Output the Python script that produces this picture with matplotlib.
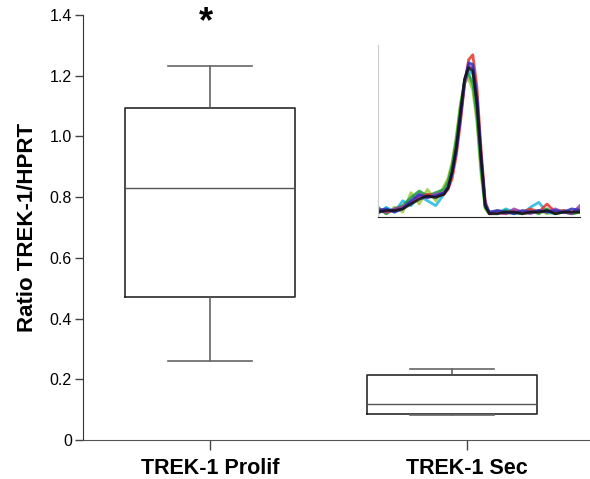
import matplotlib.pyplot as plt

plt.rcParams['font.family'] = ['Liberation Sans', 'DejaVu Sans']

# box plot summary values
groups = ["TREK-1 Prolif", "TREK-1 Sec"]
whislo = [0.26, 0.082]
q1 = [0.472, 0.086]
med = [0.83, 0.117]
q3 = [1.092, 0.215]
whishi = [1.233, 0.235]
yticks = [0, 0.2, 0.4, 0.6, 0.8, 1.0, 1.2, 1.4]
ytick_labels = ["0", "0.2", "0.4", "0.6", "0.8", "1.0", "1.2", "1.4"]

# inset melt curves (estimated)
mx = [0, 4, 8, 12, 16, 20, 24, 28, 32, 34, 36, 38, 40, 42, 44, 46, 48, 50, 52, 54,
      58, 62, 66, 70, 74, 78, 82, 86, 90, 94, 98]
melt = {
    "#9ccc3c": [0.05, 0.02, 0.06, 0.03, 0.15, 0.08, 0.17, 0.10, 0.19, 0.24, 0.34, 0.50, 0.70, 0.83, 0.85, 0.78,
                0.58, 0.26, 0.05, 0.02, 0.04, 0.02, 0.03, 0.02, 0.03, 0.04, 0.02, 0.03, 0.04, 0.02, 0.03],
    "#1fb6e6": [0.02, 0.06, 0.03, 0.10, 0.07, 0.13, 0.10, 0.07, 0.14, 0.19, 0.28, 0.42, 0.62, 0.82, 0.90, 0.88,
                0.68, 0.34, 0.06, 0.03, 0.02, 0.05, 0.03, 0.02, 0.06, 0.09, 0.03, 0.02, 0.04, 0.02, 0.04],
    "#1a9a3a": [0.06, 0.02, 0.05, 0.07, 0.12, 0.16, 0.13, 0.15, 0.17, 0.22, 0.32, 0.48, 0.68, 0.84, 0.88, 0.82,
                0.62, 0.30, 0.06, 0.02, 0.03, 0.04, 0.02, 0.03, 0.04, 0.02, 0.05, 0.02, 0.03, 0.02, 0.03],
    "#e8312a": [0.05, 0.03, 0.04, 0.06, 0.09, 0.12, 0.14, 0.13, 0.14, 0.17, 0.24, 0.38, 0.58, 0.82, 0.97, 1.00,
                0.80, 0.42, 0.10, 0.02, 0.03, 0.02, 0.04, 0.03, 0.05, 0.03, 0.08, 0.03, 0.04, 0.03, 0.05],
    "#9b3fb0": [0.04, 0.03, 0.05, 0.06, 0.09, 0.13, 0.12, 0.14, 0.15, 0.18, 0.27, 0.41, 0.61, 0.83, 0.93, 0.92,
                0.72, 0.37, 0.08, 0.03, 0.03, 0.02, 0.05, 0.03, 0.02, 0.04, 0.03, 0.05, 0.03, 0.02, 0.07],
    "#2b2fbf": [0.04, 0.05, 0.03, 0.05, 0.10, 0.14, 0.12, 0.13, 0.15, 0.18, 0.27, 0.41, 0.62, 0.84, 0.95, 0.94,
                0.74, 0.38, 0.08, 0.03, 0.04, 0.03, 0.02, 0.04, 0.03, 0.04, 0.03, 0.04, 0.03, 0.05, 0.04],
    "#111111": [0.03, 0.04, 0.04, 0.05, 0.08, 0.11, 0.13, 0.12, 0.14, 0.18, 0.28, 0.43, 0.64, 0.85, 0.92, 0.90,
                0.70, 0.36, 0.07, 0.02, 0.02, 0.03, 0.03, 0.02, 0.03, 0.03, 0.04, 0.02, 0.03, 0.03, 0.03],
}

positions = [1, 2]
tick_pos = [1.0, 2.06]

fig = plt.figure(figsize=(5.9, 4.79), dpi=100)
ax = fig.add_axes([0.1407, 0.0814, 0.8593, 0.8873])

stats = []
for i in range(len(groups)):
    stats.append({"whislo": whislo[i], "q1": q1[i], "med": med[i],
                  "q3": q3[i], "whishi": whishi[i], "fliers": []})

ax.bxp(stats, positions=positions, widths=0.70, capwidths=0.35, showfliers=False,
       boxprops=dict(color="#2a2a2a", linewidth=1.2),
       medianprops=dict(color="#555555", linewidth=1.0),
       whiskerprops=dict(color="#555555", linewidth=1.1),
       capprops=dict(color="#666666", linewidth=1.2))

ax.set_xlim(0.475, 2.57)
ax.set_ylim(0, 1.4)
ax.set_yticks(yticks)
ax.set_yticklabels(ytick_labels, fontsize=11.5)
ax.set_xticks(tick_pos)
ax.set_xticklabels(groups, fontsize=15.5, fontweight="bold")
ax.tick_params(axis="y", length=6, width=1, color="#444444", pad=2)
ax.tick_params(axis="x", length=7, width=1, color="#444444", pad=6)
ax.spines["top"].set_visible(False)
ax.spines["right"].set_visible(False)
ax.spines["left"].set_color("#333333")
ax.spines["bottom"].set_color("#555555")
ax.set_ylabel("Ratio TREK-1/HPRT", fontsize=16, fontweight="bold", labelpad=8)
ax.text(0.985, 1.375, "*", fontsize=26, fontweight="bold", ha="center", va="center")

# inset with melt curves
ins = fig.add_axes([0.6407, 0.547, 0.3423, 0.359])
for c, ys in melt.items():
    ins.plot(mx, ys, color=c, linewidth=2.0, alpha=0.85)
ins.set_xlim(0, 98)
ins.set_ylim(0, 1.06)
ins.set_xticks([])
ins.set_yticks([])
ins.spines["top"].set_visible(False)
ins.spines["right"].set_visible(False)
ins.spines["left"].set_color("#cccccc")
ins.spines["bottom"].set_color("#222222")
ins.patch.set_alpha(0)

fig.savefig("out.png", dpi=100)
